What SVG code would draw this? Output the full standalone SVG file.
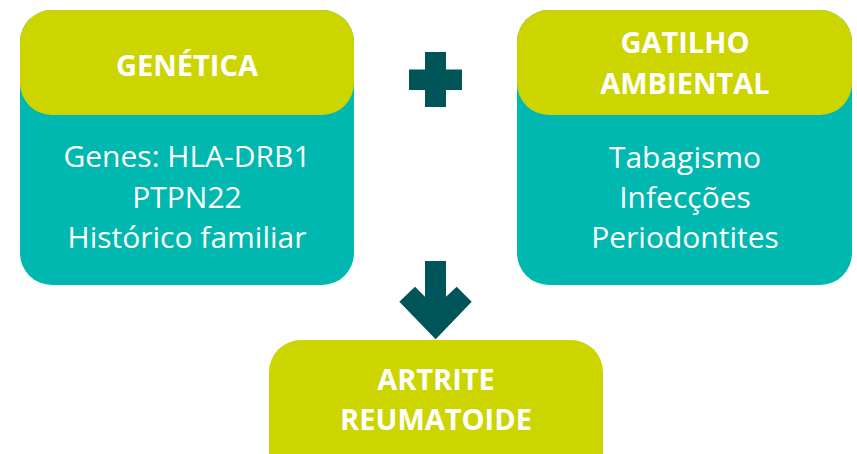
<svg xmlns="http://www.w3.org/2000/svg" width="857" height="454" viewBox="0 0 857 454">
<style>
.teal{fill:#00B8B0}
.lime{fill:#CDD500}
.dark{fill:#005558}
.t{font-family:"Open Sans","Noto Sans",sans-serif;font-weight:700;font-size:29px;fill:#fff;text-anchor:middle}
.b{font-family:"Open Sans","Noto Sans",sans-serif;font-weight:400;font-size:30px;fill:#fff;text-anchor:middle}
</style>
<rect width="857" height="454" fill="#fff"/>
<g id="genetica">
<rect class="teal" x="20" y="10" width="334" height="275" rx="32"/>
<rect class="lime" x="20" y="10" width="334" height="105" rx="32"/>
<text class="t" x="187" y="76">GENÉTICA</text>
<text class="b" x="187" y="167">Genes: HLA-DRB1</text>
<text class="b" x="187" y="208">PTPN22</text>
<text class="b" x="187" y="248">Histórico familiar</text>
</g>
<g id="gatilho">
<rect class="teal" x="517" y="10" width="335" height="275" rx="32"/>
<rect class="lime" x="517" y="10" width="335" height="105" rx="32"/>
<text class="t" x="685" y="53">GATILHO</text>
<text class="t" x="685" y="94">AMBIENTAL</text>
<text class="b" x="685" y="168">Tabagismo</text>
<text class="b" x="685" y="208">Infecções</text>
<text class="b" x="685" y="248">Periodontites</text>
</g>
<g id="artrite">
<rect class="lime" x="269" y="340" width="334" height="150" rx="32"/>
<text class="t" x="436" y="390">ARTRITE</text>
<text class="t" x="436" y="430">REUMATOIDE</text>
</g>
<g id="connectors">
<path id="plus" class="dark" d="M425 52H446V69.5H462V90H446V107H425V90H409V69.5H425Z"/>
<path id="arrow" class="dark" d="M425 261H446V296.7L456.7 286.7L471.7 301.7L435.7 339.3L399.3 301.7L415 286.7L425 296.7Z"/>
</g>
</svg>
